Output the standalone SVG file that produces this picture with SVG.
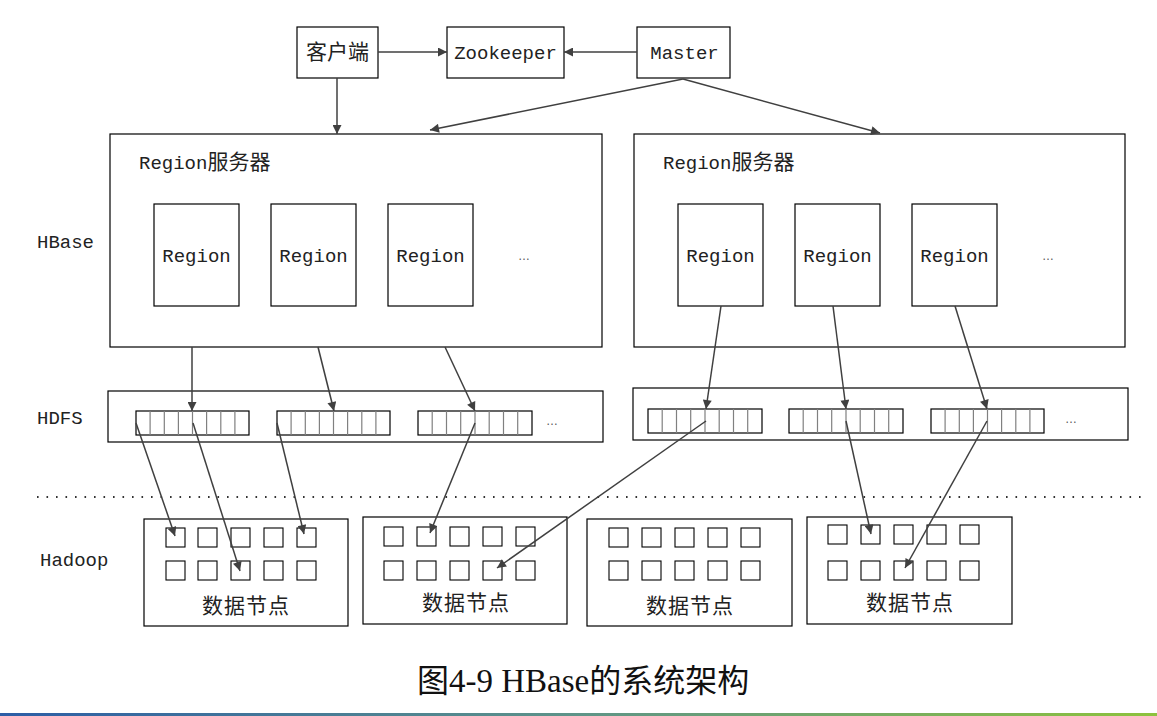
<svg xmlns="http://www.w3.org/2000/svg" width="1157" height="716" viewBox="0 0 1157 716">
<defs>
<marker id="ah" viewBox="0 0 10 10" refX="10" refY="5" markerWidth="11" markerHeight="9" markerUnits="userSpaceOnUse" orient="auto"><path d="M0,0 L10,5 L0,10 z" fill="#404040"/></marker>
<linearGradient id="bar" x1="0" y1="0" x2="1" y2="0"><stop offset="0" stop-color="#2c5da6"/><stop offset="0.5" stop-color="#5e9488"/><stop offset="1" stop-color="#8dc23d"/></linearGradient>
<style>
.box{fill:#fff;stroke:#000;stroke-width:1.2}
.sq{fill:#fff;stroke:#000;stroke-width:1.1}
.dv{stroke:#808080;stroke-width:1.2}
.lat{font-family:"Liberation Mono","Noto Sans CJK SC",monospace;font-size:19px;fill:#222}
.cjk{font-family:"Noto Sans CJK SC","Liberation Sans",sans-serif;font-size:21px;fill:#222}
.dn{font-family:"Noto Sans CJK SC","Liberation Sans",sans-serif;font-size:21px;fill:#222;letter-spacing:1px}
.dots{font-family:"Liberation Sans",sans-serif;font-size:12px;fill:#555}
.cn{stroke:#404040;stroke-width:1.5;fill:none;marker-end:url(#ah)}
</style>
</defs>
<rect width="1157" height="716" fill="#fff"/>

<!-- layer labels -->
<text class="lat" x="37" y="248">HBase</text>
<text class="lat" x="37" y="424">HDFS</text>
<text class="lat" x="40" y="566">Hadoop</text>

<!-- dotted separator -->
<line x1="37" y1="497" x2="1142" y2="497" stroke="#333" stroke-width="2" stroke-dasharray="1.6 7.9"/>

<g id="client"><rect class="box" x="297" y="27" width="81" height="51"/><text class="cjk" x="337.5" y="59" text-anchor="middle">客户端</text></g>
<g id="zookeeper"><rect class="box" x="447" y="27" width="117" height="51"/><text class="lat" x="505.5" y="59" text-anchor="middle">Zookeeper</text></g>
<g id="master"><rect class="box" x="637" y="27" width="93" height="51"/><text class="lat" x="684.5" y="59" text-anchor="middle">Master</text></g>

<g id="regionserver1">
<rect class="box" x="110" y="134" width="492" height="213"/>
<text class="lat" x="139" y="169">Region<tspan font-family="Noto Sans CJK SC,sans-serif" font-size="21">服务器</tspan></text>
<rect class="box" x="154" y="204" width="85" height="102"/><text class="lat" x="196.5" y="262" text-anchor="middle">Region</text>
<rect class="box" x="271" y="204" width="85" height="102"/><text class="lat" x="313.5" y="262" text-anchor="middle">Region</text>
<rect class="box" x="388" y="204" width="85" height="102"/><text class="lat" x="430.5" y="262" text-anchor="middle">Region</text>
<text class="dots" x="524" y="260" text-anchor="middle">…</text>
</g>

<g id="regionserver2">
<rect class="box" x="634" y="134" width="491" height="213"/>
<text class="lat" x="663" y="169">Region<tspan font-family="Noto Sans CJK SC,sans-serif" font-size="21">服务器</tspan></text>
<rect class="box" x="678" y="204" width="85" height="102"/><text class="lat" x="720.5" y="262" text-anchor="middle">Region</text>
<rect class="box" x="795" y="204" width="85" height="102"/><text class="lat" x="837.5" y="262" text-anchor="middle">Region</text>
<rect class="box" x="912" y="204" width="85" height="102"/><text class="lat" x="954.5" y="262" text-anchor="middle">Region</text>
<text class="dots" x="1048" y="260" text-anchor="middle">…</text>
</g>

<g id="hdfs1">
<rect class="box" x="108" y="391" width="495" height="51"/>
<g transform="translate(136,411)"><rect class="box" width="113" height="24"/><path class="dv" d="M14.1,0v24M28.3,0v24M42.4,0v24M56.5,0v24M70.6,0v24M84.8,0v24M98.9,0v24"/></g>
<g transform="translate(277,411)"><rect class="box" width="113" height="24"/><path class="dv" d="M14.1,0v24M28.3,0v24M42.4,0v24M56.5,0v24M70.6,0v24M84.8,0v24M98.9,0v24"/></g>
<g transform="translate(418,411)"><rect class="box" width="114" height="24"/><path class="dv" d="M14.2,0v24M28.5,0v24M42.7,0v24M57,0v24M71.2,0v24M85.5,0v24M99.7,0v24"/></g>
<text class="dots" x="552" y="425" text-anchor="middle">…</text>
</g>

<g id="hdfs2">
<rect class="box" x="633" y="388" width="495" height="52"/>
<g transform="translate(648,409)"><rect class="box" width="114" height="24"/><path class="dv" d="M14.2,0v24M28.5,0v24M42.7,0v24M57,0v24M71.2,0v24M85.5,0v24M99.7,0v24"/></g>
<g transform="translate(789,409)"><rect class="box" width="114" height="24"/><path class="dv" d="M14.2,0v24M28.5,0v24M42.7,0v24M57,0v24M71.2,0v24M85.5,0v24M99.7,0v24"/></g>
<g transform="translate(931,409)"><rect class="box" width="113" height="24"/><path class="dv" d="M14.1,0v24M28.3,0v24M42.4,0v24M56.5,0v24M70.6,0v24M84.8,0v24M98.9,0v24"/></g>
<text class="dots" x="1071" y="423" text-anchor="middle">…</text>
</g>

<g id="datanode1">
<rect class="box" x="144" y="519" width="204" height="107"/>
<rect class="sq" x="166" y="528" width="19" height="19"/><rect class="sq" x="198" y="528" width="19" height="19"/><rect class="sq" x="231" y="528" width="19" height="19"/><rect class="sq" x="264" y="528" width="19" height="19"/><rect class="sq" x="297" y="528" width="19" height="19"/>
<rect class="sq" x="166" y="561" width="19" height="19"/><rect class="sq" x="198" y="561" width="19" height="19"/><rect class="sq" x="231" y="561" width="19" height="19"/><rect class="sq" x="264" y="561" width="19" height="19"/><rect class="sq" x="297" y="561" width="19" height="19"/>
<text class="dn" x="246" y="613" text-anchor="middle">数据节点</text>
</g>
<g id="datanode2">
<rect class="box" x="363" y="517" width="204" height="107"/>
<rect class="sq" x="384" y="527" width="19" height="19"/><rect class="sq" x="417" y="527" width="19" height="19"/><rect class="sq" x="450" y="527" width="19" height="19"/><rect class="sq" x="483" y="527" width="19" height="19"/><rect class="sq" x="516" y="527" width="19" height="19"/>
<rect class="sq" x="384" y="561" width="19" height="19"/><rect class="sq" x="417" y="561" width="19" height="19"/><rect class="sq" x="450" y="561" width="19" height="19"/><rect class="sq" x="483" y="561" width="19" height="19"/><rect class="sq" x="516" y="561" width="19" height="19"/>
<text class="dn" x="466" y="610" text-anchor="middle">数据节点</text>
</g>
<g id="datanode3">
<rect class="box" x="587" y="519" width="205" height="107"/>
<rect class="sq" x="609" y="528" width="19" height="19"/><rect class="sq" x="642" y="528" width="19" height="19"/><rect class="sq" x="675" y="528" width="19" height="19"/><rect class="sq" x="708" y="528" width="19" height="19"/><rect class="sq" x="741" y="528" width="19" height="19"/>
<rect class="sq" x="609" y="561" width="19" height="19"/><rect class="sq" x="642" y="561" width="19" height="19"/><rect class="sq" x="675" y="561" width="19" height="19"/><rect class="sq" x="708" y="561" width="19" height="19"/><rect class="sq" x="741" y="561" width="19" height="19"/>
<text class="dn" x="690" y="613" text-anchor="middle">数据节点</text>
</g>
<g id="datanode4">
<rect class="box" x="807" y="517" width="205" height="107"/>
<rect class="sq" x="828" y="525" width="19" height="19"/><rect class="sq" x="861" y="525" width="19" height="19"/><rect class="sq" x="894" y="525" width="19" height="19"/><rect class="sq" x="927" y="525" width="19" height="19"/><rect class="sq" x="960" y="525" width="19" height="19"/>
<rect class="sq" x="828" y="561" width="19" height="19"/><rect class="sq" x="861" y="561" width="19" height="19"/><rect class="sq" x="894" y="561" width="19" height="19"/><rect class="sq" x="927" y="561" width="19" height="19"/><rect class="sq" x="960" y="561" width="19" height="19"/>
<text class="dn" x="910" y="610" text-anchor="middle">数据节点</text>
</g>

<g id="connectors">
<line class="cn" x1="378" y1="52" x2="447" y2="52"/>
<line class="cn" x1="637" y1="52" x2="564" y2="52"/>
<line class="cn" x1="337" y1="78" x2="337" y2="134"/>
<line class="cn" x1="683" y1="79" x2="430" y2="130"/>
<line class="cn" x1="683" y1="79" x2="880" y2="133"/>
<line class="cn" x1="192" y1="347" x2="192" y2="411"/>
<line class="cn" x1="318" y1="347" x2="334" y2="411"/>
<line class="cn" x1="445" y1="347" x2="475" y2="411"/>
<line class="cn" x1="721" y1="306" x2="706" y2="409"/>
<line class="cn" x1="833" y1="306" x2="846" y2="409"/>
<line class="cn" x1="955" y1="306" x2="987" y2="409"/>
<line class="cn" x1="136" y1="423" x2="175" y2="536"/>
<line class="cn" x1="193" y1="423" x2="240" y2="571"/>
<line class="cn" x1="277" y1="423" x2="304" y2="534"/>
<line class="cn" x1="475" y1="423" x2="430" y2="533"/>
<line class="cn" x1="706" y1="421" x2="497" y2="568"/>
<line class="cn" x1="846" y1="421" x2="871" y2="534"/>
<line class="cn" x1="987" y1="421" x2="905" y2="568"/>
</g>

<text x="417" y="692" font-family="Liberation Serif,Noto Sans CJK SC,serif" font-size="33" fill="#111"><tspan font-family="Noto Sans CJK SC,sans-serif" font-size="32">图</tspan>4-9 HBase<tspan font-family="Noto Sans CJK SC,sans-serif" font-size="32">的系统架构</tspan></text>
<rect x="0" y="713" width="1157" height="3" fill="url(#bar)"/>
</svg>
